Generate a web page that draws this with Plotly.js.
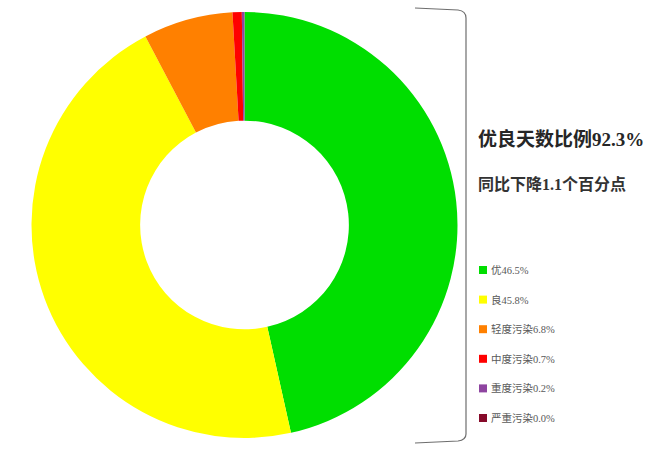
<!DOCTYPE html>
<html>
<head>
<meta charset="utf-8">
<script src="https://cdn.plot.ly/plotly-3.0.1.min.js"></script>
<style>
  html, body { margin: 0; padding: 0; background: #fff; }
  #chart { width: 651px; height: 465px; }
</style>
</head>
<body>
<div id="chart"></div>
<script>
// air quality levels and their share of days
const levels = ['优', '良', '轻度污染', '中度污染', '重度污染', '严重污染'];
const shares = [46.5, 45.8, 6.8, 0.7, 0.2, 0.0];
const levelColors = ['#00DE00', '#FFFF00', '#FF8000', '#FF0000', '#8E44A0', '#860A2A'];
const headline = '优良天数比例92.3%';
const subline = '同比下降1.1个百分点';

const W = 651, H = 465;
// pixel -> paper helpers (margins are zero)
const px = x => x / W;
const py = y => 1 - y / H;

const pie = {
    type: 'pie',
    labels: levels,
    values: shares,
    sort: false,
    direction: 'clockwise',
    rotation: 0,
    hole: 0.49,
    textinfo: 'none',
    hoverinfo: 'none',
    showlegend: false,
    marker: { colors: levelColors, line: { width: 0 } },
    domain: { x: [px(31.5), px(457.5)], y: [py(438), py(12)] }
};

// bracket to the right of the ring
const bx = [415, 458, 466, 466, 466, 466, 458, 415];
const by = [8, 10, 11, 18, 434, 440, 441, 443];
const bracketPath =
    `M ${px(bx[0])} ${py(by[0])} L ${px(bx[1])} ${py(by[1])} ` +
    `Q ${px(bx[2])} ${py(by[2])} ${px(bx[3])} ${py(by[3])} ` +
    `L ${px(bx[4])} ${py(by[4])} ` +
    `Q ${px(bx[5])} ${py(by[5])} ${px(bx[6])} ${py(by[6])} ` +
    `L ${px(bx[7])} ${py(by[7])}`;

const shapes = [{
    type: 'path', xref: 'paper', yref: 'paper',
    path: bracketPath,
    line: { color: '#6e6e6e', width: 1.2 }
}];

const annotations = [
    {
        xref: 'paper', yref: 'paper', x: px(476), y: py(139),
        xanchor: 'left', yanchor: 'middle', showarrow: false,
        text: '<b>' + headline + '</b>',
        font: { family: 'Liberation Serif, Noto Sans CJK SC', size: 19, color: '#262626' }
    },
    {
        xref: 'paper', yref: 'paper', x: px(476), y: py(184),
        xanchor: 'left', yanchor: 'middle', showarrow: false,
        text: '<b>' + subline + '</b>',
        font: { family: 'Liberation Serif, Noto Sans CJK SC', size: 16, color: '#333' }
    }
];

// hand-made legend built from the arrays
levels.forEach((name, i) => {
    const cy = 270 + i * 29.6;
    shapes.push({
        type: 'rect', xref: 'paper', yref: 'paper',
        x0: px(479), x1: px(487), y0: py(cy - 4), y1: py(cy + 4),
        fillcolor: levelColors[i], line: { width: 0 }
    });
    annotations.push({
        xref: 'paper', yref: 'paper', x: px(489), y: py(cy),
        xanchor: 'left', yanchor: 'middle', showarrow: false,
        text: name + shares[i].toFixed(1) + '%',
        font: { family: 'Liberation Serif, Noto Sans CJK SC', size: 10.5, color: '#595959' }
    });
});

const layout = {
    width: W, height: H,
    margin: { l: 0, r: 0, t: 0, b: 0 },
    paper_bgcolor: '#fff',
    plot_bgcolor: '#fff',
    showlegend: false,
    shapes: shapes,
    annotations: annotations
};

Plotly.newPlot('chart', [pie], layout, { staticPlot: true, displayModeBar: false });
</script>
</body>
</html>
